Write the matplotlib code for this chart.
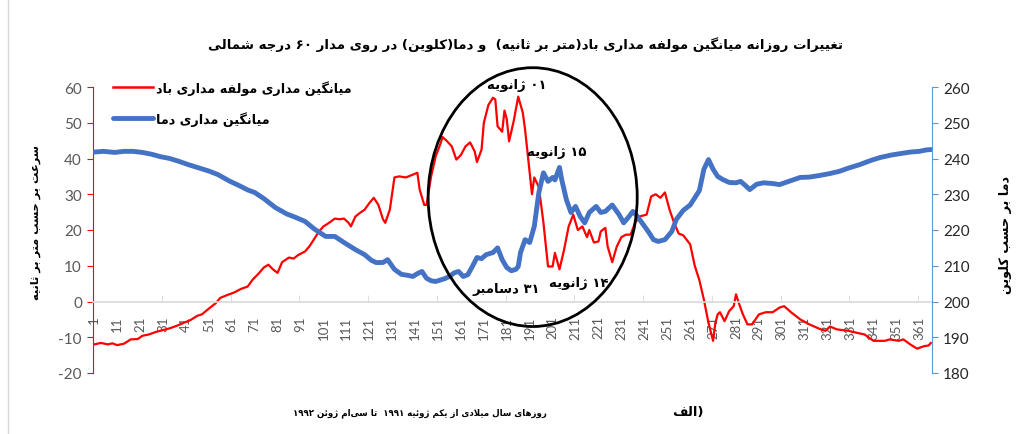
import numpy as np
import matplotlib
matplotlib.use("Agg")
import matplotlib.pyplot as plt
from matplotlib.patches import Ellipse
from matplotlib.lines import Line2D

plt.rcParams['axes.unicode_minus'] = False

# --- data ---
wind_days = [1, 4, 7, 9, 11, 14, 17, 20, 22, 25, 28, 31, 34, 37, 40, 43, 46, 48, 51, 54,
             56, 59, 62, 65, 68, 70, 73, 75, 77, 79, 81, 83, 86, 88, 90, 93, 95, 97, 99, 101,
             103, 106, 108, 110, 112, 113, 115, 117, 119, 121, 123, 125, 127, 128, 130, 132, 134, 137, 140, 142,
             143, 145, 146, 148, 150, 152, 153, 155, 157, 159, 161, 163, 165, 167, 168, 170, 171, 173, 175, 176,
             177, 179, 180, 181, 182, 184, 186, 188, 189, 190, 192, 193, 195, 197, 199, 201, 202, 204, 206, 208,
             210, 212, 214, 216, 217, 219, 221, 222, 224, 225, 227, 229, 231, 233, 235, 237, 239, 242, 244, 246,
             248, 250, 252, 254, 256, 258, 261, 263, 265, 267, 269, 271, 272, 273, 274, 276, 278, 280, 281, 282,
             284, 286, 288, 291, 294, 297, 300, 302, 305, 309, 313, 318, 320, 322, 325, 330, 334, 337, 341, 346,
             348, 352, 354, 357, 360, 363, 365, 366]
wind_ms = [-12, -11.6, -12, -11.7, -12.2, -11.8, -10.6, -10.5, -9.6, -9.2, -8.5, -8, -7.5, -6.8, -6, -5.2, -4, -3.6, -2, -0.5,
           1, 1.8, 2.5, 3.5, 4.2, 6, 8, 9.5, 10.3, 9, 8, 11, 12.3, 12, 13, 14, 15.5, 17.5, 19.5, 21,
           21.8, 23.2, 23, 23.2, 22, 21, 23.8, 24.8, 25.7, 27.5, 29, 27, 23, 22, 25.7, 34.7, 35, 34.7, 35.5, 36,
           31.3, 27, 27, 35, 40.6, 44, 46, 44.8, 43.4, 39.7, 41, 43.4, 44.5, 42, 39, 42.5, 50, 55, 57, 56.5,
           49, 47.5, 53.4, 51, 44.8, 50.4, 57.3, 52.8, 48, 42, 30, 34.7, 32, 22, 9.8, 9.8, 13.6, 9, 14.5, 21,
           24.3, 20, 21, 18, 20, 16.5, 16.8, 19.6, 20.6, 15.4, 11, 15.4, 18, 18.7, 18.7, 22, 23.8, 24.3, 29.4, 30,
           29, 30.5, 25.7, 22, 19, 18.5, 16, 10, 6, 0.5, -6, -11, -6, -3.6, -3, -5.5, -2.7, -1.3, 2, 0,
           -3.6, -6.4, -6.4, -3.6, -3, -3, -1.7, -1.3, -3, -5, -6.4, -7.8, -8.2, -7, -7.8, -8.2, -8.8, -9.2, -11, -11,
           -10.6, -11, -10.6, -12, -13.2, -12.5, -12.3, -11.6]

temp_days = [1, 5, 10, 14, 18, 22, 26, 30, 34, 38, 42, 46, 51, 55, 60, 64, 68, 71, 75, 80,
             85, 89, 93, 97, 102, 106, 110, 115, 119, 122, 124, 127, 129, 132, 135, 138, 140, 142, 144, 146,
             148, 150, 152, 154, 156, 158, 160, 162, 164, 166, 168, 170, 172, 175, 177, 179, 181, 183, 185, 186,
             187, 189, 191, 193, 195, 197, 199, 201, 202, 204, 205, 207, 209, 211, 213, 215, 217, 220, 222, 224,
             227, 230, 232, 234, 236, 238, 240, 243, 245, 247, 250, 253, 255, 258, 261, 263, 265, 267, 269, 271,
             273, 275, 278, 281, 283, 285, 287, 290, 293, 297, 300, 304, 309, 313, 317, 322, 326, 330, 335, 340,
             344, 349, 353, 357, 361, 364, 366]
temp_k = [241.8, 242, 241.7, 242, 242, 241.7, 241.2, 240.5, 240, 239.2, 238.3, 237.5, 236.5, 235.5, 233.7, 232.5, 231.2, 230.5, 228.8, 226.3,
          224.5, 223.5, 222.4, 220.3, 218.2, 218.2, 216.5, 214.5, 213.1, 211.5, 210.9, 210.9, 211.7, 209, 207.6, 207.3, 207, 207.8, 208.4, 206.5,
          205.8, 205.6, 206, 206.4, 207, 208, 208.4, 207, 207.5, 209.8, 212.3, 212, 213.1, 213.7, 215, 211.7, 209.5, 208.6, 209, 209.8,
          213.7, 217.3, 216.5, 221, 230.5, 236, 233.6, 234.7, 234, 237.5, 234, 228.5, 224.9, 226.6, 223.8, 222, 224.9, 226.6, 224.9, 225.2,
          227, 224.3, 222, 223.5, 225.2, 223.8, 222, 219.3, 217.3, 216.8, 217.3, 219.6, 223, 225.5, 227, 229, 231, 237, 239.7, 237,
          235, 234.2, 233.3, 233.2, 233.6, 232.5, 231.3, 232.8, 233.2, 233, 232.7, 233.6, 234.7, 234.8, 235.2, 235.8, 236.4, 237.3, 238.3, 239.5,
          240.3, 241, 241.4, 241.8, 242, 242.4, 242.5]

xtick_days = list(range(1, 367, 10))
wind_ticks = [-20, -10, 0, 10, 20, 30, 40, 50, 60]
temp_ticks = [180, 190, 200, 210, 220, 230, 240, 250, 260]

title = "تغییرات روزانه میانگین مولفه مداری باد(متر بر ثانیه)  و دما(کلوین) در روی مدار ۶۰ درجه شمالی"
wind_label = "میانگین مداری مولفه مداری باد"
temp_label = "میانگین مداری دما"
left_label = "سرعت بر حسب متر بر ثانیه"
right_label = "دما بر حسب کلوین"
x_label = "روزهای سال میلادی از یکم ژوئیه ۱۹۹۱  تا سی‌ام ژوئن ۱۹۹۲"
notes = [("۰۱ ژانویه", 185.5, 60.7), ("۱۵ ژانویه", 203, 42),
         ("۱۴ ژانویه", 212.5, 5.3), ("۳۱ دسامبر", 180.7, 3.6)]

# --- simple persian shaping (matplotlib has no bidi / joining) ---
FORMS = {
    'ا': (0xFE8D, 0xFE8E), 'آ': (0xFE81, 0xFE82), 'د': (0xFEA9, 0xFEAA), 'ذ': (0xFEAB, 0xFEAC),
    'ر': (0xFEAD, 0xFEAE), 'ز': (0xFEAF, 0xFEB0), 'ژ': (0xFB8A, 0xFB8B), 'و': (0xFEED, 0xFEEE),
    'ب': (0xFE8F, 0xFE90, 0xFE91, 0xFE92), 'پ': (0xFB56, 0xFB57, 0xFB58, 0xFB59),
    'ت': (0xFE95, 0xFE96, 0xFE97, 0xFE98), 'ث': (0xFE99, 0xFE9A, 0xFE9B, 0xFE9C),
    'ج': (0xFE9D, 0xFE9E, 0xFE9F, 0xFEA0), 'ح': (0xFEA1, 0xFEA2, 0xFEA3, 0xFEA4),
    'خ': (0xFEA5, 0xFEA6, 0xFEA7, 0xFEA8), 'س': (0xFEB1, 0xFEB2, 0xFEB3, 0xFEB4),
    'ش': (0xFEB5, 0xFEB6, 0xFEB7, 0xFEB8), 'ع': (0xFEC9, 0xFECA, 0xFECB, 0xFECC),
    'غ': (0xFECD, 0xFECE, 0xFECF, 0xFED0), 'ف': (0xFED1, 0xFED2, 0xFED3, 0xFED4),
    'ق': (0xFED5, 0xFED6, 0xFED7, 0xFED8), 'ک': (0xFB8E, 0xFB8F, 0xFB90, 0xFB91),
    'گ': (0xFB92, 0xFB93, 0xFB94, 0xFB95), 'ل': (0xFEDD, 0xFEDE, 0xFEDF, 0xFEE0),
    'م': (0xFEE1, 0xFEE2, 0xFEE3, 0xFEE4), 'ن': (0xFEE5, 0xFEE6, 0xFEE7, 0xFEE8),
    'ه': (0xFEE9, 0xFEEA, 0xFEEB, 0xFEEC), 'ی': (0xFBFC, 0xFBFD, 0xFBFE, 0xFBFF),
    'ئ': (0xFE89, 0xFE8A, 0xFE8B, 0xFE8C),
}
DIGITS = set('0123456789۰۱۲۳۴۵۶۷۸۹')
MIRROR = {'(': ')', ')': '('}


def joins_next(c):
    return c in FORMS and len(FORMS[c]) == 4


def shape(text):
    out = []
    i = 0
    n = len(text)
    while i < n:
        c = text[i]
        prev = text[i - 1] if i > 0 else ''
        if c not in FORMS:
            if c != '\u200c':
                out.append(c)
            i += 1
            continue
        jp = joins_next(prev)
        if c == 'ل' and i + 1 < n and text[i + 1] == 'ا':
            out.append(chr(0xFEFC if jp else 0xFEFB))
            i += 2
            continue
        nxt = text[i + 1] if i + 1 < n else ''
        jn = joins_next(c) and nxt in FORMS
        f = FORMS[c]
        if jp and jn:
            g = f[3]
        elif jp:
            g = f[1]
        elif jn:
            g = f[2]
        else:
            g = f[0]
        out.append(chr(g))
        i += 1
    s = ''.join(out)
    # visual order: reverse, keep digit runs left-to-right
    runs = []
    for ch in s:
        isd = ch in DIGITS
        if runs and runs[-1][0] == isd:
            runs[-1][1].append(ch)
        else:
            runs.append([isd, [ch]])
    vis = []
    for isd, chs in reversed(runs):
        if isd:
            vis.append(''.join(chs))
        else:
            vis.append(''.join(MIRROR.get(ch, ch) for ch in reversed(chs)))
    return ''.join(vis)


FA = ['DejaVu Sans']
NUM = ['Lato', 'DejaVu Sans']

fig = plt.figure(figsize=(10.32, 4.35), dpi=100)
ax = fig.add_axes([93 / 1032, 1 - 374 / 435, (932 - 93) / 1032, (374 - 88) / 435])
ax2 = ax.twinx()

ax.plot(wind_days, wind_ms, color='#FF0000', lw=1.6, solid_joinstyle='round')
ax2.plot(temp_days, temp_k, color='#4472C4', lw=3.5, solid_joinstyle='round', solid_capstyle='round')

ax.set_xlim(0.5, 366.5)
ax.set_ylim(-20, 60)
ax2.set_ylim(180, 260)
ax.set_yticks(wind_ticks)
ax2.set_yticks(temp_ticks)
ax.set_xticks(xtick_days)
ax.set_xticks([d + 0.5 for d in range(30, 366, 30)], minor=True)

for a in (ax, ax2):
    a.spines['top'].set_visible(False)
ax.spines['right'].set_visible(False)
ax2.spines['left'].set_visible(False)
ax2.spines['bottom'].set_visible(False)
ax.spines['left'].set_color('#FF0000')
ax2.spines['right'].set_color('#5B9BD5')
ax.spines['bottom'].set_position(('data', 0))
ax.spines['bottom'].set_color('#D9D9D9')
ax.spines['bottom'].set_linewidth(1.2)

ax.tick_params(axis='y', colors='#FF0000', labelcolor='#595959', length=4, labelsize=11, pad=4)
ax2.tick_params(axis='y', colors='#5B9BD5', labelcolor='#262626', length=4, labelsize=11, pad=4)
ax.tick_params(axis='x', which='major', length=0, labelrotation=90, labelcolor='#595959', labelsize=9.5, pad=10)
ax.tick_params(axis='x', which='minor', length=5, direction='in', color='#D9D9D9')
for lab in ax.get_xticklabels() + ax.get_yticklabels() + ax2.get_yticklabels():
    lab.set_family(NUM)

# circle around the winter event
ell = Ellipse((192.3, 29.2), 91.2, 72.4, fill=False, ec='black', lw=2, clip_on=False,
              transform=ax.transData, zorder=5)
ax2.add_patch(ell)
ax2.set_ylim(180, 260)

for txt, d, v in notes:
    ax.text(d, v, shape(txt), ha='center', va='center', fontsize=9.5, fontweight='bold',
            family=FA, zorder=6)

handles = [Line2D([], [], color='#FF0000', lw=1.8), Line2D([], [], color='#4472C4', lw=3.5, solid_capstyle='round')]
leg = ax2.legend(handles, [shape(wind_label), shape(temp_label)], loc='upper left',
                 bbox_to_anchor=(113 / 1032, 1 - 81 / 435), bbox_transform=fig.transFigure,
                 frameon=False, borderpad=0, borderaxespad=0, handlelength=3.1, handletextpad=0.3,
                 labelspacing=1.25, prop={'family': FA, 'weight': 'bold', 'size': 9.2})

fig.text(525 / 1032, 1 - 45 / 435, shape(title), ha='center', va='center', fontsize=9.6,
         fontweight='bold', family=FA)
fig.text(36 / 1032, 1 - 223 / 435, shape(left_label), ha='center', va='center', rotation=90,
         fontsize=8.2, fontweight='bold', family=FA)
fig.text(1005 / 1032, 1 - 235 / 435, shape(right_label), ha='center', va='center', rotation=90,
         fontsize=9.2, fontweight='bold', family=FA)
fig.text(420 / 1032, 1 - 413 / 435, shape(x_label), ha='center', va='center', fontsize=6.2,
         fontweight='bold', family=FA)
fig.text(688 / 1032, 1 - 413 / 435, shape("الف") + ")", ha='center', va='center', fontsize=9.5,
         fontweight='bold', family=FA)

fig.add_artist(Line2D([8 / 1032, 8 / 1032], [0, 1], transform=fig.transFigure, color='#D9D9D9', lw=1))

fig.savefig('out.png', dpi=100)
